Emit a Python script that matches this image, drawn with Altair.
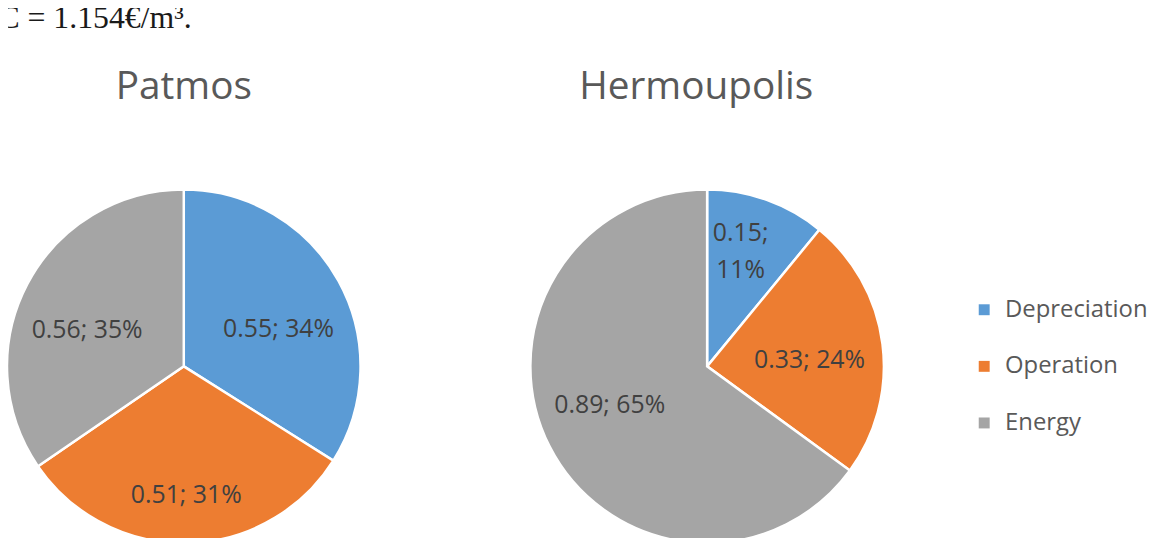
import altair as alt
import pandas as pd

categories = ["Depreciation", "Operation", "Energy"]
cities = ["Patmos", "Hermoupolis"]
patmos_values = [0.55, 0.51, 0.56]
hermoupolis_values = [0.15, 0.33, 0.89]
colors = ["#5B9BD5", "#ED7D31", "#A5A5A5"]
note_text = ["C = 1.154€/m³."]

rows = []
for city, vals in zip(cities, [patmos_values, hermoupolis_values]):
    total = sum(vals)
    for i, (c, v) in enumerate(zip(categories, vals)):
        pct = round(v / total * 100)
        sep = ";\n" if pct < 15 else "; "
        rows.append(dict(city=city, category=c, value=v, order=i,
                         label=f"{v:.2f}{sep}{pct}%"))
df = pd.DataFrame(rows)

FONT = "Open Sans"
R = 178
CY = 359  # chart coords (page margin 8)

color_scale = alt.Scale(domain=categories, range=colors)

# label placement (radius, dy) per slice, roughly like Excel's best fit
label_place = {
    "Patmos": {"Depreciation": (109, 15), "Operation": (128, 2), "Energy": (110, 15)},
    "Hermoupolis": {"Depreciation": (100, -40), "Operation": (104, 7), "Energy": (110, -11)},
}


def pie(city, cx, title_x, show_legend):
    base = alt.Chart(df).transform_filter(alt.datum.city == city).encode(
        theta=alt.Theta("value:Q", stack=True),
        order=alt.Order("order:Q"),
    )
    leg = alt.Legend(title=None, orient="none", legendX=971, legendY=290,
                     symbolType="square", symbolSize=121, symbolStrokeWidth=0,
                     labelFontSize=24, labelFont=FONT, labelColor="#595959",
                     labelOffset=9, rowPadding=33, labelLimit=300) if show_legend else None
    arc = base.mark_arc(outerRadius=R, stroke="white", strokeWidth=2.5).encode(
        color=alt.Color("category:N", scale=color_scale, legend=leg),
        x=alt.value(cx), y=alt.value(CY),
    )
    layers = [arc]
    for cat in categories:
        r, dy = label_place[city][cat]
        layers.append(
            base.mark_text(radius=r, dy=dy, fontSize=25, font=FONT,
                           color="#404040", lineBreak="\n", lineHeight=37).encode(
                text="label:N", x=alt.value(cx), y=alt.value(CY),
                opacity=alt.condition(alt.datum.category == cat, alt.value(1), alt.value(0)),
            )
        )
    title = alt.Chart(pd.DataFrame({"t": [city]})).mark_text(
        fontSize=39, font=FONT, color="#595959", baseline="alphabetic"
    ).encode(text="t:N", x=alt.value(title_x), y=alt.value(90))
    layers.append(title)
    return alt.layer(*layers).resolve_scale(theta="independent")


note = alt.Chart(pd.DataFrame({"t": note_text})).mark_text(
    fontSize=32, font="Liberation Serif", color="#1a1a1a", align="right",
    baseline="alphabetic"
).encode(text="t:N", x=alt.value(185), y=alt.value(18))

chart = alt.layer(
    pie("Patmos", 177, 177, True), pie("Hermoupolis", 704, 693, False), note
).resolve_scale(theta="independent").properties(
    width=1156, height=530, autosize=alt.AutoSizeParams(type="none"), padding=0
).configure_view(stroke=None)

chart.save("out.html", embed_options={"renderer": "svg", "actions": False})
